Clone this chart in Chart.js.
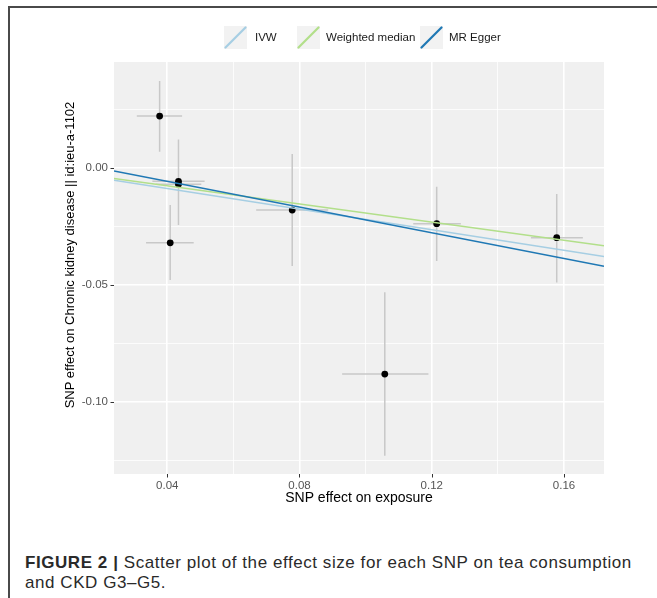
<!DOCTYPE html>
<html>
<head>
<meta charset="utf-8">
<script src="https://cdn.jsdelivr.net/npm/chart.js@4.4.1/dist/chart.umd.min.js"></script>
<style>
  body { margin: 0; background: #fff; width: 657px; height: 598px; overflow: hidden; position: relative;
         font-family: "Liberation Sans", Arial, sans-serif; }
  #frame { position: absolute; left: 8px; top: 6px; right: 0; bottom: 0;
           border-top: 2px solid #4a4a4a; border-left: 2px solid #4a4a4a; }
  #plot { position: absolute; left: 0; top: 0; }
  .key { position: absolute; top: 26px; width: 23px; height: 23px; }
  .lab { position: absolute; top: 30px; font-size: 11.5px; color: #1a1a1a; line-height: 14px; }
  #ytitle { position: absolute; left: -130px; top: 247px; width: 400px; text-align: center;
            font-size: 13px; line-height: 16px; color: #000; transform: rotate(-90deg); }
  #caption { position: absolute; left: 25px; top: 553px; font-size: 17px; line-height: 20px; color: #2a2a2a;
             white-space: nowrap; }
</style>
</head>
<body>
<div id="frame"></div>
<canvas id="plot" width="657" height="520"></canvas>
<div id="legend"></div>
<div id="ytitle">SNP effect on Chronic kidney disease || id:ieu-a-1102</div>
<div id="caption"><span id="cap1"><b>FIGURE 2 |</b> Scatter plot of the effect size for each SNP on tea consumption</span><br>and CKD G3–G5.</div>
<script>
// SNP estimates
const snpX  = [0.0377, 0.0434, 0.0434, 0.0409, 0.0778, 0.1215, 0.1578, 0.1058];
const snpY  = [0.0221, -0.0058, -0.0070, -0.0321, -0.0181, -0.0239, -0.0299, -0.0882];
const yLow  = [0.0068, -0.0238, -0.0245, -0.0480, -0.0420, -0.0399, -0.0490, -0.1231];
const yHigh = [0.0371, 0.0121, 0.0115, -0.0159, 0.0059, -0.0081, -0.0112, -0.0532];
const xLow  = [0.0308, 0.0355, 0.0365, 0.0336, 0.0669, 0.1144, 0.1500, 0.0929];
const xHigh = [0.0445, 0.0513, 0.0503, 0.0480, 0.0887, 0.1288, 0.1657, 0.1190];

// regression lines, ends at the panel edges
const fitX   = [0.0239, 0.1721];
const ivwY   = [-0.0053, -0.0379];
const wmY    = [-0.0046, -0.0333];
const eggerY = [-0.0014, -0.0421];

const methods      = ['IVW', 'Weighted median', 'MR Egger'];
const methodColors = ['#a6cee3', '#b2df8a', '#1f78b4'];

// axes
const xMajor  = [0.04, 0.08, 0.12, 0.16];
const xMinor  = [0.06, 0.10, 0.14];
const xLabels = ['0.04', '0.08', '0.12', '0.16'];
const yMajor  = [-0.10, -0.05, 0.00];
const yMinor  = [-0.125, -0.075, -0.025, 0.025];
const yLabels = ['-0.10', '-0.05', '0.00'];

// legend (html)
const keyLeft = [224, 297, 420];
const labLeft = [255, 326, 449];
const legend = document.getElementById('legend');
methods.forEach((m, i) => {
    legend.insertAdjacentHTML('beforeend',
        '<svg class="key" style="left:' + keyLeft[i] + 'px" viewBox="0 0 23 23">' +
        '<rect width="23" height="23" fill="#f2f2f2"/>' +
        '<line x1="1.5" y1="21.5" x2="21.5" y2="1.5" stroke="' + methodColors[i] + '" stroke-width="2.2" stroke-linecap="round"/></svg>' +
        '<span class="lab" style="left:' + labLeft[i] + 'px">' + m + '</span>');
});

// stretch first caption line to the reference width
const cap1 = document.getElementById('cap1');
const capText = cap1.textContent.length;
const extra = (607 - cap1.getBoundingClientRect().width) / capText;
document.getElementById('caption').style.letterSpacing = extra.toFixed(2) + 'px';

function pairs(xs, ys) {
    return xs.map((x, i) => ({ x: x, y: ys[i] }));
}

// error bars as broken line segments
const vBars = [], hBars = [];
snpX.forEach((x, i) => {
    vBars.push({ x: x, y: yLow[i] }, { x: x, y: yHigh[i] }, { x: x, y: null });
    hBars.push({ x: xLow[i], y: snpY[i] }, { x: xHigh[i], y: snpY[i] }, { x: x, y: null });
});

function lineSet(label, ys, color) {
    return { label: label, data: pairs(fitX, ys), showLine: true, borderColor: color,
             borderWidth: 1.5, pointRadius: 0, fill: false };
}

const panel = {
    id: 'panel',
    beforeDraw(chart) {
        const { ctx, chartArea: a } = chart;
        ctx.save();
        ctx.fillStyle = '#f0f0f0';
        ctx.fillRect(a.left, a.top, a.right - a.left, a.bottom - a.top);
        ctx.restore();
    },
    afterDraw(chart) {
        const { ctx, chartArea: a, scales } = chart;
        ctx.save();
        ctx.strokeStyle = '#333';
        ctx.lineWidth = 1;
        ctx.beginPath();
        xMajor.forEach(v => {
            const px = Math.round(scales.x.getPixelForValue(v)) + 0.5;
            ctx.moveTo(px, a.bottom); ctx.lineTo(px, a.bottom + 3.5);
        });
        yMajor.forEach(v => {
            const py = Math.round(scales.y.getPixelForValue(v)) + 0.5;
            ctx.moveTo(a.left - 3.5, py); ctx.lineTo(a.left, py);
        });
        ctx.stroke();
        ctx.restore();
    }
};

Chart.defaults.font.family = '"Liberation Sans", Arial, sans-serif';

new Chart(document.getElementById('plot'), {
    type: 'scatter',
    data: {
        datasets: [
            lineSet(methods[2], eggerY, methodColors[2]),
            lineSet(methods[1], wmY, methodColors[1]),
            lineSet(methods[0], ivwY, methodColors[0]),
            { label: 'SNP', data: pairs(snpX, snpY), pointRadius: 3.4, pointBackgroundColor: '#000',
              pointBorderWidth: 0, showLine: false },
            { label: 'v', data: vBars, showLine: true, spanGaps: false, borderColor: '#c8c8c8',
              borderWidth: 1.5, pointRadius: 0 },
            { label: 'h', data: hBars, showLine: true, spanGaps: false, borderColor: '#c8c8c8',
              borderWidth: 1.5, pointRadius: 0 }
        ]
    },
    options: {
        responsive: false,
        animation: false,
        layout: { padding: { top: 62, right: 53, left: 0, bottom: 0 } },
        plugins: { legend: { display: false }, tooltip: { enabled: false } },
        scales: {
            x: {
                type: 'linear', min: 0.0239, max: 0.1721,
                afterBuildTicks: s => { s.ticks = xMajor.concat(xMinor).map(v => ({ value: v })); },
                afterFit: s => { s.height = 46; },
                ticks: {
                    autoSkip: false, maxRotation: 0, padding: 5, color: '#555', font: { size: 11.5 },
                    callback: v => { const i = xMajor.indexOf(v); return i < 0 ? '' : xLabels[i]; }
                },
                grid: { color: '#fff', drawTicks: false,
                        lineWidth: c => (c.tick && xMajor.includes(c.tick.value)) ? 1.6 : 0.8 },
                border: { display: false },
                title: { display: true, text: 'SNP effect on exposure', color: '#000',
                         font: { size: 14 }, padding: { top: 0, bottom: 13 } }
            },
            y: {
                type: 'linear', min: -0.1309, max: 0.0452,
                afterBuildTicks: s => { s.ticks = yMajor.concat(yMinor).map(v => ({ value: v })); },
                afterFit: s => { s.width = 114; },
                ticks: {
                    autoSkip: false, padding: 6, color: '#555', font: { size: 11.5 },
                    callback: v => { const i = yMajor.indexOf(v); return i < 0 ? '' : yLabels[i]; }
                },
                grid: { color: '#fff', drawTicks: false,
                        lineWidth: c => (c.tick && yMajor.includes(c.tick.value)) ? 1.6 : 0.8 },
                border: { display: false }
            }
        }
    },
    plugins: [panel]
});
</script>
</body>
</html>
